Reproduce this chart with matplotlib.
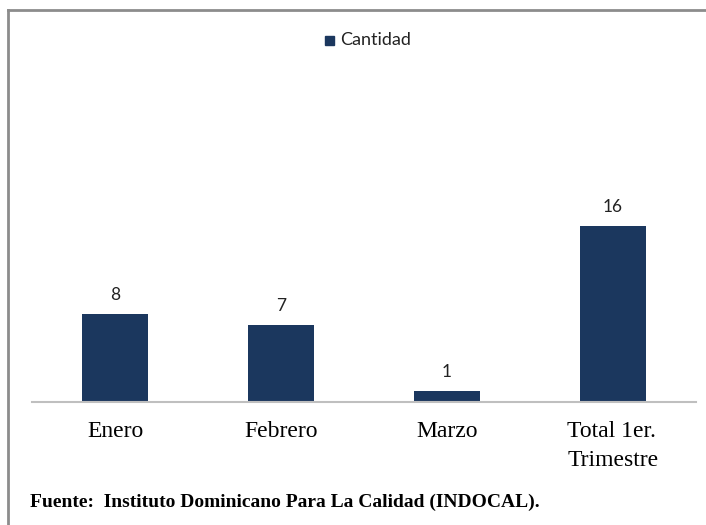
import matplotlib.pyplot as plt
from matplotlib.patches import Rectangle
from matplotlib.lines import Line2D
from matplotlib.transforms import blended_transform_factory, offset_copy

categorias = ["Enero", "Febrero", "Marzo", "Total 1er.\nTrimestre"]
cantidad = [8, 7, 1, 16]
serie = "Cantidad"
fuente = "Fuente:  Instituto Dominicano Para La Calidad (INDOCAL)."

W, H = 706, 525
color_barra = "#1B375E"

fig = plt.figure(figsize=(W / 100, H / 100), dpi=100)

# marco gris del grafico (sale por la derecha y abajo)
fig.add_artist(Line2D([8 / W, 1.0], [1 - 10 / H, 1 - 10 / H], color="#8C8C8C", lw=2))
fig.add_artist(Line2D([8 / W, 8 / W], [0.0, 1 - 10 / H], color="#8C8C8C", lw=2))

ax = fig.add_axes([32 / W, 123 / H, 664 / W, 220 / H])
x = list(range(len(categorias)))
barras = ax.bar(x, cantidad, width=0.4, color=color_barra, label=serie, zorder=2)
ax.set_xlim(-0.5, 3.5)
ax.set_ylim(0, 20)

for b, v in zip(barras, cantidad):
    ax.text(b.get_x() + b.get_width() / 2, v + 1.0, str(v), ha="center", va="bottom",
            fontsize=12.5, family="Lato", color="#222222")

for s in ["top", "right", "left"]:
    ax.spines[s].set_visible(False)
ax.spines["bottom"].set_color("#BFBFBF")
ax.spines["bottom"].set_linewidth(1.5)
ax.set_yticks([])
ax.set_xticks(x)
ax.set_xticklabels([])
ax.tick_params(axis="x", length=0)

# etiquetas de categoria (multilinea alineada a la izquierda, bloque centrado)
trans = blended_transform_factory(ax.transData, ax.transAxes)
tr = offset_copy(trans, fig=fig, x=0, y=-14, units="points")
for xi, cat in zip(x, categorias):
    ax.text(xi, 0, cat, transform=tr, ha="center", va="top", multialignment="left",
            family="Liberation Serif", fontsize=17, linespacing=1.45, clip_on=False)

# leyenda
fig.add_artist(Rectangle((325 / W, 1 - 45 / H), 9 / W, 9 / H, color=color_barra,
                         transform=fig.transFigure))
fig.text(340 / W, 1 - 40 / H, serie, family="Lato", fontsize=13, va="center",
         color="#222222")

fig.text(30 / W, 1 - 502 / H, fuente, family="Liberation Serif", fontsize=14,
         fontweight="bold", va="center")

fig.savefig("out.png", dpi=100)
